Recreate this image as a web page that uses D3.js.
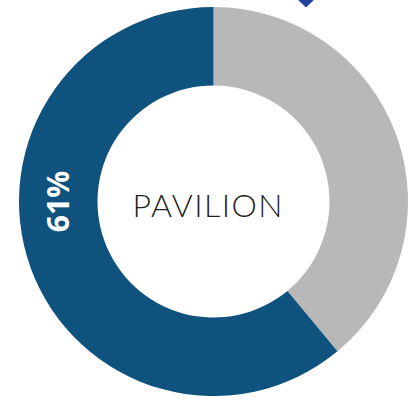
<!DOCTYPE html>
<html>
<head>
<meta charset="utf-8">
<script src="https://cdn.jsdelivr.net/npm/d3@7"></script>
<style>
  html, body { margin: 0; padding: 0; background: #fff; }
  svg { display: block; }
</style>
</head>
<body>
<div id="chart"></div>
<script>
const W = 410;
const H = 402;

// data
const categories = ["Other", "Pavilion"];
const values = [39, 61];
const colors = ["#b8b8b8", "#0f527d"];
const centerLabel = "PAVILION";
const sliceLabels = ["", "61%"];

const CX = 213.5;
const CY = 201.5;
const OUTER = 194.5;
const INNER = 116;

const svg = d3.select("#chart").append("svg")
    .attr("width", W)
    .attr("height", H);

// bit of a blue marker peeking in at the top edge
svg.append("path")
    .attr("d", "M296,-2 L306,7.5 L316,-2 Z")
    .attr("fill", "#2343a0");

const g = svg.append("g")
    .attr("transform", `translate(${CX},${CY})`);

const pie = d3.pie().sort(null).value(d => d);
const arc = d3.arc().innerRadius(INNER).outerRadius(OUTER);

const arcs = pie(values);

g.selectAll("path.slice")
    .data(arcs)
    .enter().append("path")
    .attr("class", "slice")
    .attr("d", arc)
    .attr("fill", (d, i) => colors[i]);

// rotated percent label, left side of the ring, reading bottom to top
const ringMid = (INNER + OUTER) / 2;
g.selectAll("text.pct")
    .data(arcs.filter((d, i) => sliceLabels[i]))
    .enter().append("text")
    .attr("class", "pct")
    .attr("transform", `translate(${-ringMid},0) rotate(-90)`)
    .attr("text-anchor", "middle")
    .attr("dy", "0.36em")
    .attr("fill", "#fff")
    .style("font-family", "'Open Sans', sans-serif")
    .style("font-weight", 700)
    .style("font-size", "30px")
    .text(d => sliceLabels[d.index]);

g.append("text")
    .attr("x", -6)
    .attr("y", 15.2)
    .attr("text-anchor", "middle")
    .attr("fill", "#231f20")
    .attr("textLength", 150)
    .attr("lengthAdjust", "spacing")
    .style("font-family", "Lato, 'Open Sans', sans-serif")
    .style("font-weight", 300)
    .style("font-size", "32px")
    .text(centerLabel);
</script>
</body>
</html>
